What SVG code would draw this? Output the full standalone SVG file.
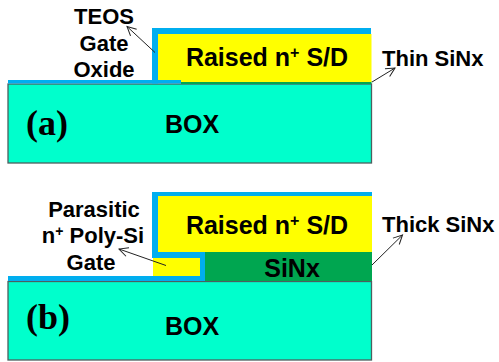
<svg xmlns="http://www.w3.org/2000/svg" width="499" height="362" viewBox="0 0 499 362">
<style>
.l{font-family:"Liberation Sans",Arial,sans-serif;font-weight:bold;font-size:22px;fill:#000;text-anchor:middle}
.b{font-size:25px}
.s{text-anchor:start}
.p{font-family:"Liberation Serif","Times New Roman",serif;font-weight:bold;font-size:36px;fill:#000}
.box{fill:#00ffcc;stroke:#4d5f5f;stroke-width:1.3}
.blue{fill:#00aeef}
.yel{fill:#ffff00}
.grn{fill:#00a650}
.a{fill:none;stroke:#222;stroke-width:1;marker-end:url(#ah)}
</style>
<defs>
<marker id="ah" markerUnits="userSpaceOnUse" markerWidth="14" markerHeight="14" refX="11" refY="7" orient="auto" overflow="visible">
<path d="M2 2.5 L11 7 L2 11.5" fill="none" stroke="#222" stroke-width="1"/>
</marker>
</defs>
<rect width="499" height="362" fill="#fff"/>
<g id="panel-a">
<g id="box-a"><rect class="box" x="8" y="84" width="363.5" height="79"/><text class="l b" x="192" y="133">BOX</text></g>
<g id="sd-a"><rect class="grn" x="181" y="81" width="190.5" height="3"/><rect class="yel" x="158" y="34" width="213.5" height="48"/><text class="l b" x="267" y="66">Raised n<tspan font-size="16" dy="-8">+</tspan><tspan dy="8"> S/D</tspan></text></g>
<g id="thin-sinx-a"><path class="blue" d="M8 80H152V28H371V34H158V83.5H8Z"/><rect class="blue" x="152" y="80" width="29" height="3.5"/></g>
<g id="label-a"><text class="p" x="26" y="135">(a)</text></g>
<g id="teos"><text class="l" x="104" y="24">TEOS</text><text class="l" x="104" y="51">Gate</text><text class="l" x="104" y="77">Oxide</text></g>
<g id="thin"><text class="l s" x="382" y="66">Thin SiNx</text></g>
</g>
<g id="panel-b">
<g id="box-b"><rect class="box" x="8" y="281.5" width="363.5" height="78.5"/><text class="l b" x="192" y="335">BOX</text></g>
<g id="sd-b"><rect class="yel" x="158" y="196" width="214" height="56"/><text class="l b" x="267" y="234">Raised n<tspan font-size="16" dy="-8">+</tspan><tspan dy="8"> S/D</tspan></text></g>
<g id="sinx-b"><rect class="grn" x="205" y="252" width="167" height="29"/><text class="l b" x="292" y="277">SiNx</text></g>
<g id="poly-b"><rect class="yel" x="153" y="258" width="47" height="18"/></g>
<g id="thick-sinx-b"><path class="blue" d="M152 192H372V196H158V252H205V281H8V276H200V258H152Z"/></g>
<g id="label-b"><text class="p" x="26" y="329">(b)</text></g>
<g id="parasitic"><text class="l" x="94" y="217">Parasitic</text><text class="l" x="93" y="243">n<tspan font-size="14" dy="-7">+</tspan><tspan dy="7"> Poly-Si</tspan></text><text class="l" x="91" y="270">Gate</text></g>
<g id="thick"><text class="l s" x="382" y="232">Thick SiNx</text></g>
</g>
<g id="connectors">
<line class="a" x1="155" y1="52.5" x2="127" y2="26.5"/>
<line class="a" x1="372" y1="82" x2="395" y2="68"/>
<line class="a" x1="166" y1="265.5" x2="119" y2="249"/>
<line class="a" x1="372" y1="265" x2="402.5" y2="235"/>
</g>
</svg>
